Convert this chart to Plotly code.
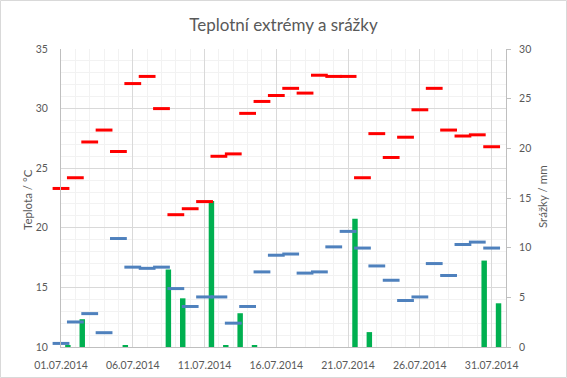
import plotly.graph_objects as go

days = list(range(1, 32))
dates = [f"2014-07-{d:02d}" for d in days]
t_max = [23.3, 24.2, 27.2, 28.2, 26.4, 32.1, 32.7, 30.0, 21.1, 21.6, 22.2, 26.0, 26.2, 29.6, 30.6,
         31.1, 31.7, 31.3, 32.8, 32.7, 32.7, 24.2, 27.9, 25.9, 27.6, 29.9, 31.7, 28.2, 27.7, 27.8, 26.8]
t_min = [10.3, 12.1, 12.8, 11.2, 19.1, 16.7, 16.6, 16.7, 14.9, 13.4, 14.2, 14.2, 12.0, 13.4, 16.3,
         17.7, 17.8, 16.2, 16.3, 18.4, 19.7, 18.3, 16.8, 15.6, 13.9, 14.2, 17.0, 16.0, 18.6, 18.8, 18.3]
precip = [0.2, 2.8, 0, 0, 0.2, 0, 0, 7.8, 4.9, 0, 14.7, 0.2, 3.4, 0.2, 0,
          0, 0, 0, 0, 0, 12.9, 1.5, 0, 0, 0, 0, 0, 0, 0, 8.7, 4.4]

title_text = "Teplotní extrémy a srážky"
left_title = "Teplota / °C"
right_title = "Srážky / mm"

DAY = 86400000
FONT = "Lato"
TXT = "#595959"

W, H = 567, 378
ML, MR, MT, MB = 61, 61, 49, 31
PW, PH = W - ML - MR, H - MT - MB

fig = go.Figure()
fig.add_trace(go.Bar(
    x=dates, y=precip, yaxis="y", name="Srážky",
    marker=dict(color="#00B050", line=dict(width=0)),
    width=0.38 * DAY, offset=0.29 * DAY,
))
fig.add_trace(go.Scatter(
    x=dates, y=t_max, yaxis="y2", mode="markers", name="Max",
    marker=dict(symbol="line-ew", size=12, line=dict(color="#FF0000", width=3)),
    cliponaxis=False,
))
fig.add_trace(go.Scatter(
    x=dates, y=t_min, yaxis="y2", mode="markers", name="Min",
    marker=dict(symbol="line-ew", size=12, line=dict(color="#4F81BD", width=3)),
    cliponaxis=False,
))

fig.update_layout(
    width=W, height=H,
    margin=dict(l=ML, r=MR, t=MT, b=MB, pad=0, autoexpand=False),
    paper_bgcolor="white", plot_bgcolor="white",
    showlegend=False,
    font=dict(family=FONT, color=TXT),
    title=dict(text=title_text, x=0.5, xanchor="center", y=1 - 25 / H, yanchor="middle",
               font=dict(family=FONT, size=17, color=TXT)),
    xaxis=dict(
        type="date", range=["2014-07-01", "2014-08-01"], automargin=False,
        tick0="2014-07-01", dtick=5 * DAY, tickformat="%d.%m.%Y",
        showgrid=True, gridcolor="#D9D9D9", gridwidth=1,
        minor=dict(dtick=DAY, showgrid=True, gridcolor="#F2F2F2", gridwidth=1),
        showline=True, linecolor="#BFBFBF", linewidth=1,
        ticks="", ticklabelstandoff=8,
        tickfont=dict(family=FONT, size=10.5, color=TXT),
        zeroline=False,
    ),
    yaxis=dict(
        side="right", range=[0, 30], dtick=5, showgrid=False, zeroline=False, automargin=False,
        showline=True, linecolor="#BFBFBF", linewidth=1,
        ticks="outside", ticklen=4, tickcolor="#BFBFBF",
        ticklabelstandoff=6,
        tickfont=dict(family=FONT, size=10.5, color=TXT),
    ),
    yaxis2=dict(
        overlaying="y", side="left", range=[10, 35], dtick=5, automargin=False,
        showgrid=True, gridcolor="#D9D9D9", gridwidth=1,
        minor=dict(dtick=1, showgrid=True, gridcolor="#F2F2F2", gridwidth=1),
        showline=True, linecolor="#BFBFBF", linewidth=1, zeroline=False,
        ticks="", ticklabelstandoff=10,
        tickfont=dict(family=FONT, size=10.5, color=TXT),
    ),
    annotations=[
        dict(text=left_title, xref="paper", yref="paper",
             x=(27 - ML) / PW, y=(H - MB - 200) / PH, xanchor="center", yanchor="middle",
             textangle=-90, showarrow=False, font=dict(family=FONT, size=11.5, color=TXT)),
        dict(text=right_title, xref="paper", yref="paper",
             x=(543 - ML) / PW, y=(H - MB - 197) / PH, xanchor="center", yanchor="middle",
             textangle=-90, showarrow=False, font=dict(family=FONT, size=11.5, color=TXT)),
    ],
    shapes=[
        dict(type="rect", xref="paper", yref="paper", layer="below",
             x0=(0.5 - ML) / PW, x1=(W - 0.5 - ML) / PW,
             y0=-(MB - 0.5) / PH, y1=(H - MB - 0.5) / PH,
             line=dict(color="#D9D9D9", width=1), fillcolor="rgba(0,0,0,0)"),
    ],
)

fig.write_html(
    "out.html",
    config={"displayModeBar": False},
    post_script="document.body.style.margin='0';document.body.style.overflow='hidden';",
)
